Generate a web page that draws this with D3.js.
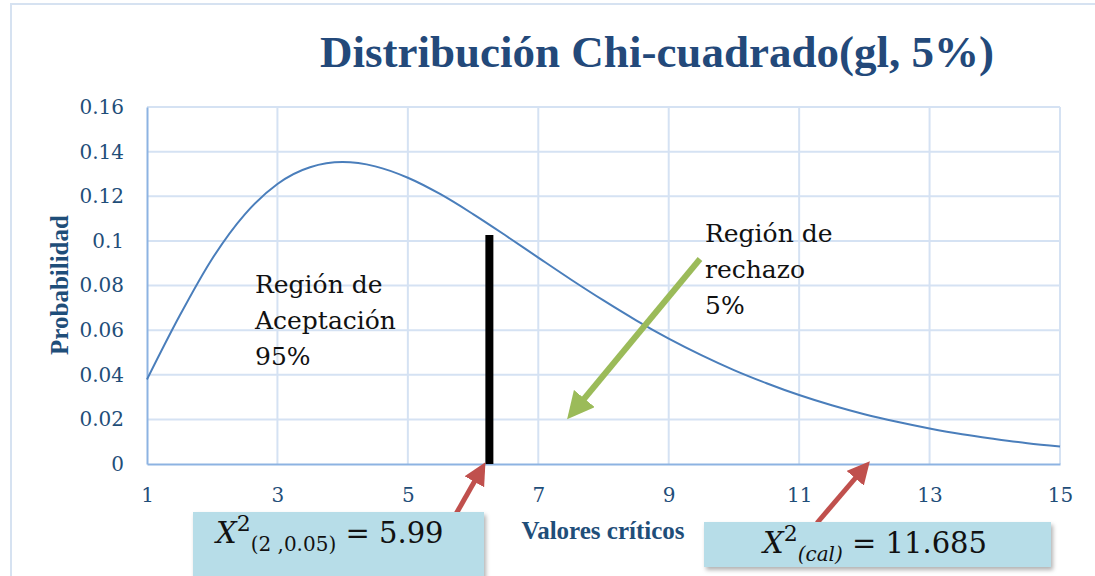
<!DOCTYPE html>
<html>
<head>
<meta charset="utf-8">
<script src="https://cdn.jsdelivr.net/npm/d3@7"></script>
<style>
  body { margin: 0; background: #fff; }
  svg { display: block; }
</style>
</head>
<body>
<svg id="chart"></svg>
<script>
// Data
const xValues = [1, 1.5, 2, 2.5, 3, 3.5, 4, 4.5, 5, 5.5, 6, 6.5, 7, 7.5, 8, 8.5, 9, 9.5, 10, 10.5, 11, 11.5, 12, 12.5, 13, 13.5, 14, 14.5, 15];
const probValues = [0.0379, 0.0664, 0.0920, 0.1119, 0.1255, 0.1330, 0.1353, 0.1334, 0.1283, 0.1209, 0.1120, 0.1024, 0.0925, 0.0827, 0.0733, 0.0644, 0.0562, 0.0488, 0.0421, 0.0362, 0.0309, 0.0263, 0.0223, 0.0189, 0.0159, 0.0133, 0.0112, 0.0093, 0.0078];
const xTicks = [1, 3, 5, 7, 9, 11, 13, 15];
const yTicks = [0, 0.02, 0.04, 0.06, 0.08, 0.1, 0.12, 0.14, 0.16];
const criticalLine = { x: 6.25, top: 0.1026 };

let width = 1095, height = 576;
let margin = { top: 107, bottom: 112, left: 147, right: 35 };

let svg = d3.select('#chart')
    .attr('width', width)
    .attr('height', height)
    .style('font-family', '"Liberation Serif", serif');

// outer chart frame
svg.append('path')
    .attr('d', `M11,${height} L11,4 L${width},4`)
    .attr('fill', 'none')
    .attr('stroke', '#d6e2f1')
    .attr('stroke-width', 2);

let xScale = d3.scaleLinear()
    .domain([1, 15])
    .range([margin.left, width - margin.right]);

let yScale = d3.scaleLinear()
    .domain([0, 0.16])
    .range([height - margin.bottom, margin.top]);

// gridlines
svg.append('g')
    .selectAll('line')
    .data(yTicks.filter(d => d > 0))
    .enter().append('line')
    .attr('x1', margin.left)
    .attr('x2', width - margin.right)
    .attr('y1', d => yScale(d))
    .attr('y2', d => yScale(d))
    .attr('stroke', '#d5e2f3')
    .attr('stroke-width', 2);

svg.append('g')
    .selectAll('line')
    .data(xTicks.filter(d => d > 1))
    .enter().append('line')
    .attr('x1', d => xScale(d))
    .attr('x2', d => xScale(d))
    .attr('y1', margin.top)
    .attr('y2', height - margin.bottom)
    .attr('stroke', '#d5e2f3')
    .attr('stroke-width', 2);

// axes
let yAxis = svg.append('g')
    .attr('transform', `translate(${margin.left}, 0)`)
    .call(d3.axisLeft(yScale).tickValues(yTicks).tickSize(0).tickPadding(23).tickFormat(d => d3.format('')(+d.toFixed(2))));

let xAxis = svg.append('g')
    .attr('transform', `translate(0, ${height - margin.bottom})`)
    .call(d3.axisBottom(xScale).tickValues(xTicks).tickSize(0).tickPadding(22));

[xAxis, yAxis].forEach(a => {
    a.select('.domain').attr('stroke', '#8db3e2').attr('stroke-width', 2);
    a.selectAll('text')
        .style('font-family', '"DejaVu Serif", serif')
        .style('font-size', '20px')
        .attr('fill', '#1f4e79');
});
xAxis.selectAll('text').attr('dy', '0.35em').attr('y', 31);

// curve
let line = d3.line()
    .x((d, i) => xScale(xValues[i]))
    .y(d => yScale(d))
    .curve(d3.curveMonotoneX);

svg.append('path')
    .datum(probValues)
    .attr('d', line)
    .attr('fill', 'none')
    .attr('stroke', '#4a7ebb')
    .attr('stroke-width', 2);

// title
svg.append('text')
    .attr('x', 657)
    .attr('y', 67)
    .attr('text-anchor', 'middle')
    .style('font-size', '45px')
    .style('font-weight', 'bold')
    .attr('fill', '#23497a')
    .text('Distribución Chi-cuadrado(gl, 5%)');

// axis titles
svg.append('text')
    .attr('transform', 'translate(68, 285) rotate(-90)')
    .attr('text-anchor', 'middle')
    .style('font-size', '25px')
    .style('font-weight', 'bold')
    .attr('fill', '#1f4e79')
    .text('Probabilidad');

svg.append('text')
    .attr('x', 603)
    .attr('y', 539)
    .attr('text-anchor', 'middle')
    .style('font-size', '25px')
    .style('font-weight', 'bold')
    .attr('fill', '#1f4e79')
    .text('Valores críticos');

// critical value bar
svg.append('line')
    .attr('x1', xScale(criticalLine.x))
    .attr('x2', xScale(criticalLine.x))
    .attr('y1', yScale(criticalLine.top))
    .attr('y2', yScale(0))
    .attr('stroke', '#000')
    .attr('stroke-width', 8);

// region labels
function block(x, y, lines) {
    let t = svg.append('text')
        .attr('x', x)
        .attr('y', y)
        .style('font-family', '"DejaVu Serif", serif')
        .style('font-size', '25px')
        .attr('fill', '#111');
    lines.forEach((s, i) => {
        t.append('tspan').attr('x', x).attr('dy', i === 0 ? 0 : 36).text(s);
    });
}
block(255, 293, ['Región de', 'Aceptación', '95%']);
block(705, 242, ['Región de', 'rechazo', '5%']);

// arrows
let defs = svg.append('defs');
function marker(id, color) {
    defs.append('marker')
        .attr('id', id)
        .attr('viewBox', '0 0 10 10')
        .attr('refX', 6)
        .attr('refY', 5)
        .attr('markerWidth', 4.5)
        .attr('markerHeight', 4.5)
        .attr('orient', 'auto')
        .append('path')
        .attr('d', 'M0,0 L10,5 L0,10 Z')
        .attr('fill', color);
}
marker('green', '#9bbb59');
marker('red', '#c0504d');

function arrow(x1, y1, x2, y2, color, id, w) {
    svg.append('line')
        .attr('x1', x1).attr('y1', y1)
        .attr('x2', x2).attr('y2', y2)
        .attr('stroke', color)
        .attr('stroke-width', w)
        .attr('marker-end', `url(#${id})`);
}
arrow(700, 259, 574, 411, '#9bbb59', 'green', 6);
arrow(456, 514, 481, 470, '#c0504d', 'red', 5);
arrow(817, 523, 864, 468, '#c0504d', 'red', 5);

// value boxes
let shadow = defs.append('filter').attr('id', 'shadow')
    .attr('x', '-5%').attr('y', '-10%').attr('width', '115%').attr('height', '140%');
shadow.append('feDropShadow')
    .attr('dx', 2).attr('dy', 3).attr('stdDeviation', 2)
    .attr('flood-color', '#000').attr('flood-opacity', 0.3);

function box(x, y, w, h) {
    svg.append('rect')
        .attr('x', x).attr('y', y)
        .attr('width', w).attr('height', h)
        .attr('fill', '#b7dde8')
        .attr('filter', 'url(#shadow)');
}
box(193, 512, 291, 70);
box(704, 522, 347, 45);

function formula(x, y, sub, value) {
    let t = svg.append('text')
        .attr('x', x)
        .attr('y', y)
        .style('font-family', '"DejaVu Serif", serif')
        .style('font-size', '29px')
        .attr('fill', '#111');
    t.append('tspan').style('font-style', 'italic').text('X');
    t.append('tspan').attr('dy', -12).style('font-size', '22px').text('2');
    t.append('tspan').attr('dy', 20).style('font-size', '20px')
        .style('font-style', sub.italic ? 'italic' : 'normal').text(sub.text);
    t.append('tspan').attr('dy', -8).text(' = ' + value);
}
formula(216, 543, { text: '(2 ,0.05)', italic: false }, '5.99');
formula(763, 553, { text: '(cal)', italic: true }, '11.685');
</script>
</body>
</html>
